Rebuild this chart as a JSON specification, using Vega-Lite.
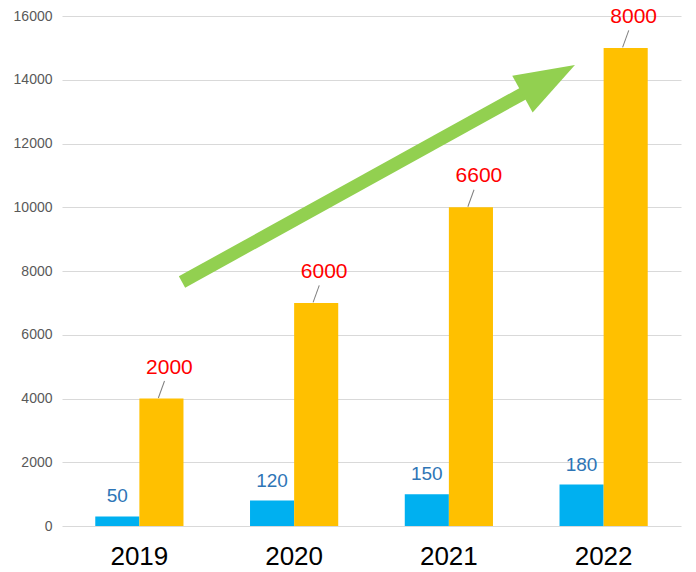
{
  "$schema": "https://vega.github.io/schema/vega-lite/v6.json",
  "width": 619,
  "height": 510,
  "autosize": "none",
  "padding": {"left": 62, "top": 16, "right": 15, "bottom": 46},
  "background": "white",
  "config": {
    "font": "Liberation Sans",
    "view": {"stroke": null}
  },
  "datasets": {
    "bars": [
      {"year": "2019", "series": "a", "value": 300, "label": "50"},
      {"year": "2019", "series": "b", "value": 4000, "label": "2000"},
      {"year": "2020", "series": "a", "value": 800, "label": "120"},
      {"year": "2020", "series": "b", "value": 7000, "label": "6000"},
      {"year": "2021", "series": "a", "value": 1000, "label": "150"},
      {"year": "2021", "series": "b", "value": 10000, "label": "6600"},
      {"year": "2022", "series": "a", "value": 1300, "label": "180"},
      {"year": "2022", "series": "b", "value": 15000, "label": "8000"}
    ],
    "arrow": [
      {"x": 0.7755, "y": 7655, "x2": 2.998, "y2": 13616}
    ],
    "head": [
      {"x": 3.145, "y": 14005}
    ]
  },
  "resolve": {"scale": {"x": "independent"}},
  "layer": [
    {
      "data": {"name": "bars"},
      "encoding": {
        "x": {
          "field": "year", "type": "nominal",
          "scale": {"paddingInner": 0.43, "paddingOuter": 0.215},
          "axis": {"title": null, "labelAngle": 0, "labelFontSize": 26, "labelColor": "#000000", "labelPadding": 17, "ticks": false, "domain": false, "grid": false}
        },
        "xOffset": {"field": "series", "type": "nominal", "scale": {"domain": ["a", "b"], "paddingInner": 0, "paddingOuter": 0}},
        "y": {
          "field": "value", "type": "quantitative",
          "scale": {"domain": [0, 16000], "nice": false},
          "axis": {"title": null, "values": [0, 2000, 4000, 6000, 8000, 10000, 12000, 14000, 16000], "format": "d", "labelFontSize": 14, "labelColor": "#595959", "labelPadding": 10, "ticks": false, "domain": false, "gridColor": "#d9d9d9", "gridWidth": 1}
        }
      },
      "layer": [
        {
          "mark": {"type": "bar"},
          "encoding": {
            "color": {"field": "series", "type": "nominal", "scale": {"domain": ["a", "b"], "range": ["#00b0f0", "#ffc000"]}, "legend": null}
          }
        },
        {
          "transform": [{"filter": "datum.series === 'a'"}],
          "mark": {"type": "text", "dy": -20, "fontSize": 19, "color": "#2e75b6", "baseline": "middle"},
          "encoding": {"text": {"field": "label"}}
        },
        {
          "transform": [{"filter": "datum.series === 'b'"}],
          "mark": {"type": "text", "dx": 8, "dy": -31, "fontSize": 21, "color": "#ff0000", "baseline": "middle"},
          "encoding": {"text": {"field": "label"}}
        },
        {
          "transform": [{"filter": "datum.series === 'b'"}],
          "mark": {"type": "point", "shape": "stroke", "size": 324, "angle": 290, "stroke": "#7f7f7f", "strokeWidth": 1, "opacity": 1, "yOffset": -9, "xOffset": 3},
          "encoding": {}
        }
      ]
    },
    {
      "data": {"name": "arrow"},
      "mark": {"type": "rule", "color": "#92d050", "strokeWidth": 13, "strokeCap": "butt"},
      "encoding": {
        "x": {"field": "x", "type": "quantitative", "scale": {"domain": [0, 4], "nice": false, "zero": false}, "axis": null},
        "x2": {"field": "x2"},
        "y": {"field": "y", "type": "quantitative"},
        "y2": {"field": "y2"}
      }
    },
    {
      "data": {"name": "head"},
      "mark": {"type": "point", "shape": "M0,-1L0.7,1L-0.7,1Z", "size": 3600, "angle": 61, "filled": true, "color": "#92d050", "opacity": 1},
      "encoding": {
        "x": {"field": "x", "type": "quantitative", "scale": {"domain": [0, 4], "nice": false, "zero": false}, "axis": null},
        "y": {"field": "y", "type": "quantitative"}
      }
    }
  ]
}
